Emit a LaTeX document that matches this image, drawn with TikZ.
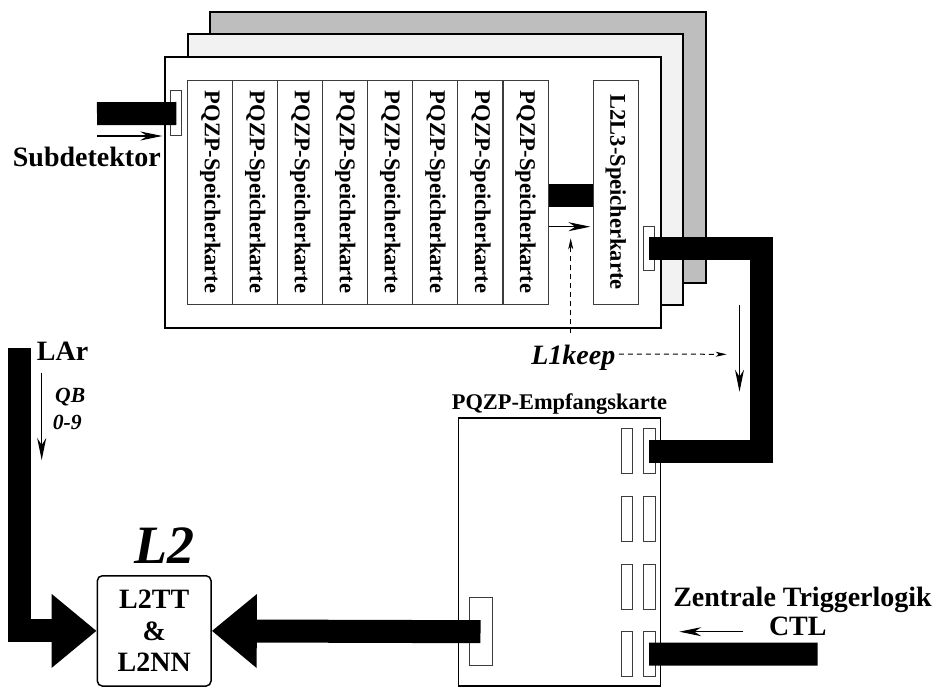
\documentclass[tikz,border=0pt]{standalone}
\usepackage{fontspec}
\setmainfont{Liberation Serif}
\usepackage{graphicx}
\usepackage{tikz}
\usetikzlibrary{arrows.meta,calc,positioning}
\definecolor{rackback}{RGB}{190,190,190}
\definecolor{rackmid}{RGB}{242,242,242}
\definecolor{cardline}{RGB}{60,60,60}
\newcommand{\labfont}[1]{\fontsize{#1}{#1}\selectfont\bfseries}
\newcommand{\keyfont}[1]{\fontsize{#1}{#1}\selectfont\bfseries\itshape}

\begin{document}
\begin{tikzpicture}[x=1pt,y=-1pt,
  bus/.style={line width=23pt},
  bigtip/.style={-{Triangle[length=45pt,width=71pt]}},
  flowarrow/.style={line width=1.2pt,-{Stealth[length=22pt,width=9pt,inset=7pt]}},
  keeparrow/.style={line width=1pt,dash pattern=on 5pt off 4pt,-{Stealth[length=11pt,width=5pt,inset=3pt]}},
  card/.style={draw=cardline,line width=1pt,inner sep=0pt,minimum width=45pt,minimum height=224.3pt,font=\labfont{22.5}},
  slot/.style={draw=cardline,fill=white,line width=1pt,inner sep=0pt,minimum width=11.3pt,minimum height=45pt}]
  \useasboundingbox (0,0) rectangle (935,687);
  \draw[fill=rackback,line width=2pt] (210,12.3) rectangle (706,282.7);
  \draw[fill=rackmid,line width=2pt] (187.7,34.3) rectangle (683,305);
  \draw[fill=white,line width=2pt] (164.7,57.3) rectangle (660.7,327.7);
  \foreach \i in {1,...,8}
    \node[card] (pq\i) at ({187.7+45.04*(\i-0.5)},192.2) {\rotatebox{-90}{PQZP-Speicherkarte}};
  \node[card,minimum width=44.7pt] (l2l3) at (615.7,192.2) {\rotatebox{-90}{L2L3-Speicherkarte}};
  \node[slot] (slotA) at (176.3,113.5) {};
  \node[slot,minimum width=11pt,minimum height=44pt] (slotB) at (649.2,248.7) {};

  \node[draw,line width=1.5pt,inner sep=0pt,minimum width=202.4pt,minimum height=268.3pt] (emp) at (559.5,551.9) {};
  \node[above=0pt of emp,inner sep=2pt,font=\labfont{22.4}] (emplabel) {PQZP-Empfangskarte};
  \foreach \r in {1,...,4} {
    \node[slot] (ea\r) at (626.7,{451.3+67.6*(\r-1)}) {};
    \node[slot,minimum width=11.7pt] (eb\r) at (649.2,{451.3+67.6*(\r-1)}) {};
  }
  \node[slot,minimum width=23pt,minimum height=68pt] (portL) at (480.5,631.7) {};

  \node[draw,line width=1.5pt,rounded corners=5pt,minimum width=113.7pt,minimum height=110.3pt,
    align=center,font=\fontsize{28}{31.5}\selectfont\bfseries] (l2) at (154.2,630.9) {L2TT\\\&\\L2NN};
  \node[anchor=base,font=\keyfont{54}] (l2title) at (164,563.3) {L2};

  \coordinate (sdin) at (97,113.7);
  \coordinate (midbus) at (0,195.7);
  \coordinate (midarrow) at (0,226.7);
  \coordinate (bendR) at (761.7,451.3);
  \coordinate (ctlin) at (817.7,654);
  \coordinate (larin) at (19,348.3);
  \draw[bus] (sdin) -- (slotA.center);
  \draw[bus] (pq8.east |- midbus) -- (l2l3.west |- midbus);
  \draw[bus] (slotB.center) -| (bendR) -- (eb1.center);
  \draw[bus] (ctlin) -- (eb4.center);
  \draw[bus,bigtip] (portL.center) -- (l2.east);
  \draw[bus,bigtip] (larin) |- (l2.west);

  \coordinate (sdA) at (97,136);
  \coordinate (sdB) at (162.3,136);
  \coordinate (keepup) at (570.7,333.3);
  \coordinate (keeptop) at (570.7,238.3);
  \coordinate (keeptip) at (726.7,354.3);
  \coordinate (downA) at (739.5,305);
  \coordinate (downB) at (739.5,391.7);
  \coordinate (ctlA) at (743.3,631.7);
  \coordinate (ctlB) at (679.3,631.7);
  \coordinate (larA) at (41.7,372.7);
  \coordinate (larB) at (41.7,460);
  \draw[flowarrow] (sdA) -- (sdB);
  \draw[flowarrow,shorten >=2.5pt] (pq8.east |- midarrow) -- (l2l3.west |- midarrow);
  \draw[flowarrow] (downA) -- (downB);
  \draw[flowarrow] (ctlA) -- (ctlB);
  \draw[flowarrow] (larA) -- (larB);

  \node[anchor=base,font=\keyfont{28}] (keep) at (573.3,364.3) {L1keep};
  \draw[keeparrow] (keepup) -- (keeptop);
  \draw[keeparrow] ([yshift=3.5pt]keep.east) -- (keeptip);

  \node[anchor=base west,inner sep=0pt,font=\labfont{28}] (subdet) at (12.7,166.7) {Subdetektor};
  \node[anchor=base west,inner sep=0pt,font=\labfont{28}] (lar) at (36.7,360.7) {LAr};
  \node[anchor=base west,inner sep=0pt,font=\keyfont{21.6}] (qb) at (55,402.7) {QB};
  \node[anchor=base west,inner sep=0pt,font=\keyfont{21.6}] (qbrange) at (52.7,429) {0-9};
  \node[anchor=base,inner sep=0pt,font=\labfont{28}] (ztl) at (802.5,606.7) {Zentrale Triggerlogik};
  \node[anchor=base,inner sep=0pt,font=\labfont{28}] (ctl) at (797.8,635) {CTL};
\end{tikzpicture}
\end{document}
